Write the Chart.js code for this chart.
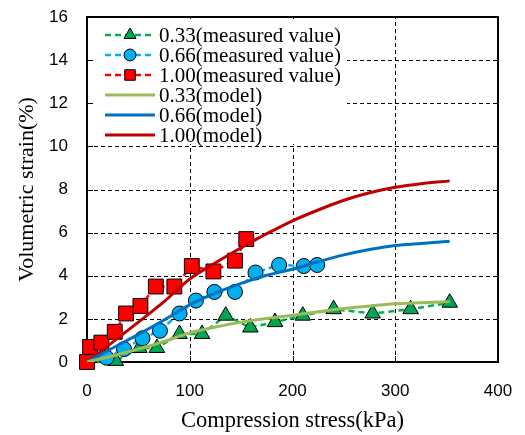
<!DOCTYPE html>
<html>
<head>
<meta charset="utf-8">
<script src="https://cdn.jsdelivr.net/npm/chart.js@4"></script>
<style>
  html, body { margin: 0; padding: 0; background: #fff; }
  #wrap { width: 525px; height: 435px; }
</style>
</head>
<body>
<div id="wrap"><canvas id="chart" width="525" height="435"></canvas></div>
<script>
// measured values
const triX = [0, 28, 51, 68, 90, 112, 135, 159, 183, 210, 240, 278, 315, 353];
const triY = [0, 0.05, 0.65, 0.65, 1.3, 1.3, 2.15, 1.6, 1.85, 2.15, 2.45, 2.25, 2.45, 2.75];
const cirX = [0, 19, 36, 54, 71, 90, 106, 124, 144, 164, 187, 211, 224];
const cirY = [0, 0.2, 0.6, 1.1, 1.45, 2.25, 2.85, 3.25, 3.25, 4.15, 4.5, 4.45, 4.5];
const sqX = [0, 3, 14, 27, 38, 52, 67, 85, 102, 123, 144, 155];
const sqY = [0, 0.7, 0.9, 1.4, 2.25, 2.6, 3.5, 3.5, 4.45, 4.2, 4.7, 5.7];

// model curves
const modelX = [0, 25, 50, 75, 100, 125, 150, 175, 200, 225, 250, 275, 300, 325, 353];
const model033 = [0, 0.28, 0.6, 0.95, 1.35, 1.62, 1.85, 2.02, 2.17, 2.33, 2.48, 2.6, 2.7, 2.75, 2.8];
const model066 = [0, 0.65, 1.28, 1.95, 2.65, 3.2, 3.65, 4.02, 4.3, 4.65, 4.97, 5.22, 5.4, 5.5, 5.6];
const model100 = [0, 0.92, 1.85, 2.8, 3.85, 4.6, 5.3, 5.95, 6.55, 7.05, 7.5, 7.85, 8.1, 8.27, 8.4];

const xTicks = [0, 100, 200, 300, 400];
const yTicks = [0, 2, 4, 6, 8, 10, 12, 14, 16];

const labels = ['0.33(measured value)', '0.66(measured value)', '1.00(measured value)',
                '0.33(model)', '0.66(model)', '1.00(model)'];

function pts(xs, ys) {
  return xs.map((x, i) => ({ x: x, y: ys[i] }));
}

const serif = "'Liberation Serif', 'Times New Roman', serif";
const sans = "'Liberation Sans', Arial, sans-serif";

const styles = [
  { color: '#00B050', fill: '#00A651', shape: 'triangle', dash: true },
  { color: '#00B0F0', fill: '#00B0F0', shape: 'circle', dash: true },
  { color: '#FF0000', fill: '#FF0000', shape: 'rect', dash: true },
  { color: '#9BBB59', dash: false },
  { color: '#0070C0', dash: false },
  { color: '#C00000', dash: false }
];

function drawShape(ctx, shape, x, y, r, fill) {
  ctx.save();
  ctx.fillStyle = fill;
  ctx.strokeStyle = '#000';
  ctx.lineWidth = 1;
  ctx.setLineDash([]);
  ctx.beginPath();
  if (shape === 'triangle') {
    ctx.moveTo(x, y - r);
    ctx.lineTo(x + r * 0.87, y + r * 0.5);
    ctx.lineTo(x - r * 0.87, y + r * 0.5);
    ctx.closePath();
  } else if (shape === 'circle') {
    ctx.arc(x, y, r * 0.85, 0, Math.PI * 2);
  } else {
    ctx.rect(x - r * 0.75, y - r * 0.75, r * 1.5, r * 1.5);
  }
  ctx.fill();
  ctx.stroke();
  ctx.restore();
}

const framePlugin = {
  id: 'frame',
  beforeDatasetsDraw(chart) {
    const ctx = chart.ctx;
    const a = chart.chartArea;
    const sx = chart.scales.x, sy = chart.scales.y;
    ctx.save();
    // dashed grid
    ctx.strokeStyle = '#000';
    ctx.lineWidth = 1;
    ctx.setLineDash([4, 3]);
    ctx.beginPath();
    yTicks.slice(1, -1).forEach(v => {
      const py = Math.round(sy.getPixelForValue(v)) + 0.5;
      ctx.moveTo(a.left, py); ctx.lineTo(a.right, py);
    });
    xTicks.slice(1, -1).forEach(v => {
      const px = Math.round(sx.getPixelForValue(v)) + 0.5;
      ctx.moveTo(px, a.bottom); ctx.lineTo(px, a.top);
    });
    ctx.stroke();
    ctx.setLineDash([]);
    // legend box
    ctx.fillStyle = '#fff';
    ctx.fillRect(a.left + 2, a.top + 2, 345 - a.left, 142 - a.top);
    ctx.font = '21px ' + serif;
    ctx.textBaseline = 'middle';
    ctx.textAlign = 'left';
    labels.forEach((lab, i) => {
      const st = styles[i];
      const y = a.top + 18 + i * 20;
      ctx.strokeStyle = st.color;
      ctx.lineWidth = st.dash ? 2.5 : 3;
      ctx.setLineDash(st.dash ? [6, 4] : []);
      ctx.beginPath();
      ctx.moveTo(a.left + 18, y);
      ctx.lineTo(a.left + 68, y);
      ctx.stroke();
      ctx.setLineDash([]);
      if (st.shape) drawShape(ctx, st.shape, a.left + 43, y, 7, st.fill);
      ctx.fillStyle = '#000';
      ctx.fillText(lab, a.left + 72, y + 1);
    });
    // inward tick marks
    ctx.strokeStyle = '#000';
    ctx.lineWidth = 1;
    ctx.beginPath();
    yTicks.forEach(v => {
      const py = Math.round(sy.getPixelForValue(v)) + 0.5;
      ctx.moveTo(a.left, py); ctx.lineTo(a.left + 6, py);
    });
    xTicks.forEach(v => {
      const px = Math.round(sx.getPixelForValue(v)) + 0.5;
      ctx.moveTo(px, a.bottom); ctx.lineTo(px, a.bottom - 6);
    });
    ctx.stroke();
    // frame
    ctx.lineWidth = 2;
    ctx.strokeRect(a.left, a.top, a.right - a.left, a.bottom - a.top);
    ctx.restore();
  }
};

const measured = [[triX, triY], [cirX, cirY], [sqX, sqY]].map((d, i) => ({
  label: labels[i],
  data: pts(d[0], d[1]),
  showLine: true,
  clip: false,
  borderColor: styles[i].color,
  borderWidth: 2.5,
  borderDash: [6, 4],
  pointStyle: styles[i].shape,
  pointRadius: i === 2 ? 10.5 : (i === 0 ? 9 : 7.5),
  pointBackgroundColor: styles[i].fill,
  pointBorderColor: '#000',
  pointBorderWidth: 1,
  order: 4 - i   // later series drawn on top
}));

const models = [model033, model066, model100].map((ys, i) => ({
  label: labels[i + 3],
  data: pts(modelX, ys),
  showLine: true,
  borderColor: styles[i + 3].color,
  borderWidth: 3,
  pointRadius: 0,
  cubicInterpolationMode: 'monotone',
  order: 1
}));

new Chart(document.getElementById('chart'), {
  type: 'scatter',
  data: { datasets: measured.concat(models) },
  options: {
    responsive: false,
    animation: false,
    devicePixelRatio: 1,
    layout: { padding: { left: 0, right: 27, top: 17, bottom: 0 } },
    plugins: { legend: { display: false }, tooltip: { enabled: false } },
    scales: {
      x: {
        type: 'linear', min: 0, max: 400,
        afterBuildTicks: s => { s.ticks = xTicks.map(v => ({ value: v })); },
        afterFit: s => { s.height = 73; s.paddingLeft = 0; s.paddingRight = 0; },
        ticks: { color: '#000', font: { family: sans, size: 17 }, padding: 19, maxRotation: 0 },
        grid: { display: false, drawTicks: false },
        border: { display: false },
        title: { display: true, text: 'Compression stress(kPa)', color: '#000',
                 font: { family: serif, size: 22.5 }, padding: 0 }
      },
      y: {
        type: 'linear', min: 0, max: 16,
        afterBuildTicks: s => { s.ticks = yTicks.map(v => ({ value: v })); },
        afterFit: s => { s.width = 87; s.paddingTop = 0; s.paddingBottom = 0; },
        ticks: { color: '#000', font: { family: sans, size: 17 }, padding: 19 },
        grid: { display: false, drawTicks: false },
        border: { display: false },
        title: { display: true, text: 'Volumetric strain(%)', color: '#000',
                 font: { family: serif, size: 22 }, padding: { top: 14, bottom: 0 } }
      }
    }
  },
  plugins: [framePlugin]
});
</script>
</body>
</html>
